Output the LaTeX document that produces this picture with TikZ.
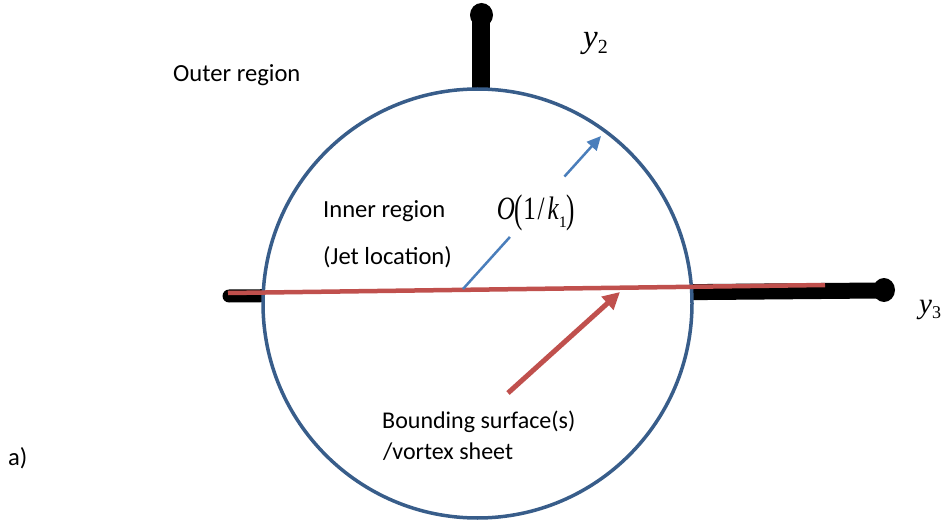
\documentclass[tikz,border=0pt]{standalone}
\usepackage{fontspec}
\usepackage{graphicx}
\setmainfont{Carlito}
\newfontfamily\tms{Liberation Serif}
\usetikzlibrary{arrows.meta,calc}
\definecolor{circblue}{RGB}{56,93,138}
\definecolor{arrblue}{RGB}{74,126,187}
\definecolor{sheetred}{RGB}{192,80,77}
\begin{document}
\begin{tikzpicture}[x=1pt,y=-1pt,
  lbl/.style={font=\fontsize{24.6}{28}\selectfont, inner sep=0pt, anchor=base west},
  mathlbl/.style={font=\tms\fontsize{33}{36}\selectfont, inner sep=0pt, anchor=base west},
  axisline/.style={line width=13pt, line cap=round, black},
  vaxis/.style={line width=18pt, black},
  sheet/.style={sheetred, line width=4.5pt},
  bluearrow/.style={arrblue, line width=2.5pt},
  redarrow/.style={sheetred, line width=5pt, -{Triangle[length=17pt,width=17pt]}}
]
\useasboundingbox (0,0) rectangle (943,524);
% axes
\coordinate (h1) at (229,296);
\coordinate (hm) at (480,294);
\coordinate (h2) at (878,290.5);
\coordinate (v1) at (481,110);
\coordinate (v2) at (481,20);
\draw[axisline] (h1) -- (hm);
\draw[axisline, line width=16pt, line cap=butt] (hm) -- (h2);
\fill (884,290) ellipse (11pt and 12pt);
\draw[vaxis] (v1) -- (v2);
\fill (481.5,15) ellipse (11.5pt and 12pt);
% circle
\node[circle, draw=circblue, line width=3.5pt, fill=white, minimum size=429pt, inner sep=0pt] (c) at (477.5,303.5) {};
% vortex sheet
\coordinate (rl) at (228,293);
\coordinate (rr) at (825,285);
\draw[sheet] (rl) -- (rr);
% blue arrow
\coordinate (bs) at (463,289);
\coordinate (bt) at (601,136);
\draw[bluearrow] (bs) -- ($(bs)!0.34!(bt)$);
\draw[bluearrow, -{Triangle[length=14pt,width=13pt]}] ($(bs)!0.735!(bt)$) -- (bt);
% red arrow
\coordinate (ra) at (508,393);
\coordinate (rt) at (620,292);
\draw[redarrow] (ra) -- (rt);
% labels
\node[lbl] (outer) at (173,82) {Outer region};
\node[lbl] (inner) at (323,217) {Inner region};
\node[lbl] (jet) at (323,264) {(Jet location)};
\node[lbl, font=\fontsize{24}{28}\selectfont] (bound1) at (382,428) {Bounding surface(s)};
\node[lbl, font=\fontsize{24}{28}\selectfont] (bound2) at (383,459) {/vortex sheet};
\node[lbl] (a) at (8,465) {a)};
\node[mathlbl] (y2) at (583,48) {{\itshape y}\raisebox{-0.18em}{\fontsize{20}{20}\selectfont 2}};
\node[mathlbl, font=\tms\fontsize{29}{32}\selectfont] (y3) at (919,313) {{\itshape y}\raisebox{-0.18em}{\fontsize{18}{18}\selectfont 3}};
\node[inner sep=0pt, font=\tms\fontsize{25}{30}\selectfont] (order) at (536,213)
  {\scalebox{1}[1.3]{\itshape O}\raisebox{-0.14em}{\scalebox{1}[1.6]{(}}\scalebox{1}[1.3]{1\kern0.08em/\kern0.12em{\itshape k}}\raisebox{-0.32em}{\fontsize{16}{16}\selectfont 1}\raisebox{-0.14em}{\scalebox{1}[1.6]{)}}};
\end{tikzpicture}
\end{document}
